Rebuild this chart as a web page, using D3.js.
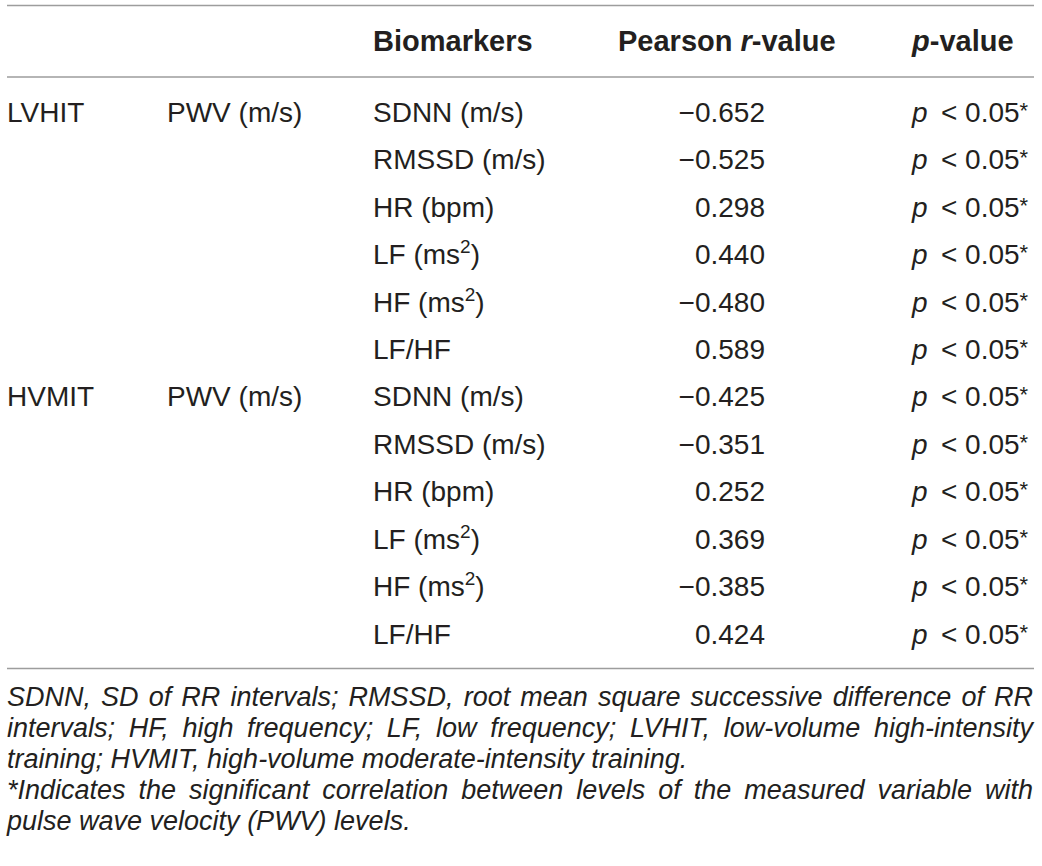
<!DOCTYPE html>
<html>
<head>
<meta charset="utf-8">
<script src="https://cdn.jsdelivr.net/npm/d3@7"></script>
<style>
    body { margin: 0; background: #fff; }
    svg text { font-family: "Liberation Sans", Arial, Helvetica, sans-serif; fill: #231f20; }
</style>
</head>
<body>
<div id="table"></div>
<script>
// table content
const groups = ["LVHIT", "HVMIT"];
const measure = "PWV (m/s)";
const biomarkers = ["SDNN (m/s)", "RMSSD (m/s)", "HR (bpm)", "LF (ms^2)", "HF (ms^2)", "LF/HF"];
const lvhitR = [-0.652, -0.525, 0.298, 0.440, -0.480, 0.589];
const hvmitR = [-0.425, -0.351, 0.252, 0.369, -0.385, 0.424];
const pThreshold = 0.05;
const footnoteLines = [
    "SDNN, SD of RR intervals; RMSSD, root mean square successive difference of RR",
    "intervals; HF, high frequency; LF, low frequency; LVHIT, low-volume high-intensity",
    "training; HVMIT, high-volume moderate-intensity training.",
    "*Indicates the significant correlation between levels of the measured variable with",
    "pulse wave velocity (PWV) levels."
];
const justified = [true, true, false, true, false];

const W = 1042, H = 866;
const left = 7, right = 1034;
const col = {group: 7, measure: 167, marker: 373, r: 765, p: 912};

const rows = [];
groups.forEach((g, gi) => {
    const vals = gi === 0 ? lvhitR : hvmitR;
    biomarkers.forEach((b, bi) => {
        rows.push({group: bi === 0 ? g : "", measure: bi === 0 ? measure : "", marker: b, r: vals[bi]});
    });
});

const svg = d3.select("#table").append("svg")
    .attr("width", W)
    .attr("height", H)
    .attr("viewBox", `0 0 ${W} ${H}`);

const y = d3.scaleLinear().domain([0, rows.length - 1]).range([122, 643.5]);
const fmt = d3.format(".3f");

// rules
const rules = [5.5, 77, 668.5];
svg.selectAll("line.rule")
    .data(rules)
    .join("line")
    .attr("class", "rule")
    .attr("x1", left)
    .attr("x2", right)
    .attr("y1", (d) => d)
    .attr("y2", (d) => d)
    .attr("stroke", "#9d9d9d")
    .attr("stroke-width", 1.6);

// header
const header = svg.append("g").attr("font-size", 29).attr("font-weight", "bold");
header.append("text").attr("x", col.marker).attr("y", 51).text("Biomarkers");
const hr = header.append("text").attr("x", 618).attr("y", 51);
hr.append("tspan").text("Pearson ");
hr.append("tspan").attr("font-style", "italic").text("r");
hr.append("tspan").text("-value");
const hp = header.append("text").attr("x", col.p).attr("y", 51);
hp.append("tspan").attr("font-style", "italic").text("p");
hp.append("tspan").text("-value");

// body rows
const body = svg.append("g").attr("font-size", 28);
const row = body.selectAll("g.row")
    .data(rows)
    .join("g")
    .attr("class", "row")
    .attr("transform", (d, i) => `translate(0,${y(i)})`);

row.append("text").attr("x", col.group).text((d) => d.group);
row.append("text").attr("x", col.measure).text((d) => d.measure);

row.append("text")
    .attr("x", col.marker)
    .each(function (d) {
        const parts = d.marker.split("^");
        const t = d3.select(this);
        t.append("tspan").text(parts[0].replace(")", ""));
        if (parts.length > 1) {
            t.append("tspan").attr("font-size", 19).attr("dy", -11).text(parts[1].replace(")", ""));
            t.append("tspan").attr("dy", 11).text(")");
        } else if (d.marker.includes(")")) {
            t.append("tspan").text(")");
        }
    });

row.append("text")
    .attr("x", col.r)
    .attr("text-anchor", "end")
    .text((d) => fmt(d.r));

row.append("text")
    .attr("x", col.p)
    .each(function () {
        const t = d3.select(this);
        t.append("tspan").attr("font-style", "italic").text("p");
        t.append("tspan").text(`\u2009 < ${pThreshold.toFixed(2)}`);
        t.append("tspan").attr("font-size", 22).attr("dy", -4).text("*");
    });

// footnote, justified lines laid out word by word
const noteSize = 27;
const note = svg.append("g").attr("font-size", noteSize).attr("font-style", "italic");
const noteY = d3.scaleLinear().domain([0, footnoteLines.length - 1]).range([706, 830]);

footnoteLines.forEach((line, li) => {
    const words = line.split(" ");
    const g = note.append("g");
    const nodes = words.map((w) => g.append("text").attr("y", noteY(li)).text(w));
    const widths = nodes.map((n) => n.node().getComputedTextLength());
    const space = noteSize * 0.278;
    const total = d3.sum(widths);
    const gap = justified[li] ? (right - 1 - left - total) / (words.length - 1) : space;
    let x = left;
    nodes.forEach((n, i) => {
        n.attr("x", x);
        x += widths[i] + gap;
    });
});
</script>
</body>
</html>
